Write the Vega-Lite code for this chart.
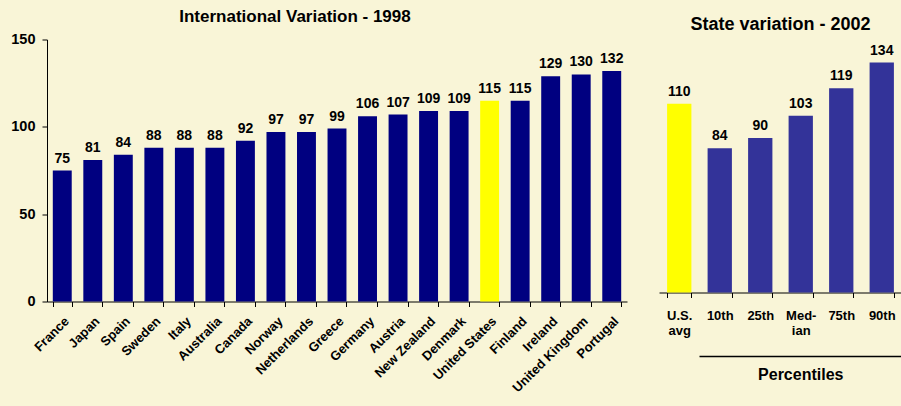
{
  "$schema": "https://vega.github.io/schema/vega-lite/v6.json",
  "background": "#F9F5D7",
  "padding": {"left": 10, "top": 7.5, "right": 6, "bottom": 20},
  "spacing": 32,
  "config": {
    "view": {"stroke": null},
    "axis": {"labelFont": "Liberation Sans", "labelFontWeight": "bold", "labelColor": "black", "domainColor": "black", "tickColor": "black", "grid": false, "titleFont": "Liberation Sans"},
    "title": {"font": "Liberation Sans", "fontWeight": "bold", "color": "black", "offset": 5.5},
    "text": {"font": "Liberation Sans", "fontWeight": "bold", "color": "black"}
  },
  "hconcat": [
    {
      "title": {"text": "International Variation - 1998", "dx": -42, "fontSize": 17},
      "width": 580,
      "height": 262,
      "data": {"values": [
        {"country": "France", "value": 75},
        {"country": "Japan", "value": 81},
        {"country": "Spain", "value": 84},
        {"country": "Sweden", "value": 88},
        {"country": "Italy", "value": 88},
        {"country": "Australia", "value": 88},
        {"country": "Canada", "value": 92},
        {"country": "Norway", "value": 97},
        {"country": "Netherlands", "value": 97},
        {"country": "Greece", "value": 99},
        {"country": "Germany", "value": 106},
        {"country": "Austria", "value": 107},
        {"country": "New Zealand", "value": 109},
        {"country": "Denmark", "value": 109},
        {"country": "United States", "value": 115},
        {"country": "Finland", "value": 115},
        {"country": "Ireland", "value": 129},
        {"country": "United Kingdom", "value": 130},
        {"country": "Portugal", "value": 132}
      ]},
      "encoding": {
        "x": {"field": "country", "type": "nominal", "sort": null,
              "scale": {"paddingInner": 0.38, "paddingOuter": 0.19},
              "axis": {"title": null, "labelAngle": -45, "labelFontSize": 13, "tickBand": "extent", "tickSize": 5, "labelPadding": 8}},
        "y": {"field": "value", "type": "quantitative",
              "scale": {"domain": [0, 150]},
              "axis": {"title": null, "values": [0, 50, 100, 150], "labelFontSize": 14.5, "tickSize": 5, "labelPadding": 7}}
      },
      "layer": [
        {"mark": {"type": "bar"},
         "encoding": {"color": {"condition": {"test": "datum.country === 'United States'", "value": "#FFFF00"}, "value": "#000080"}}},
        {"mark": {"type": "text", "baseline": "bottom", "dy": -5, "fontSize": 14},
         "encoding": {"text": {"field": "value", "type": "quantitative"}}}
      ]
    },
    {
      "title": {"text": "State variation - 2002", "fontSize": 18},
      "width": 243,
      "height": 253,
      "layer": [
        {
          "data": {"values": [
            {"label": "U.S. avg", "value": 110},
            {"label": "10th", "value": 84},
            {"label": "25th", "value": 90},
            {"label": "Median", "value": 103},
            {"label": "75th", "value": 119},
            {"label": "90th", "value": 134}
          ]},
          "encoding": {
            "x": {"field": "label", "type": "nominal", "sort": null,
                  "scale": {"domain": ["U.S. avg", "10th", "25th", "Median", "75th", "90th"], "paddingInner": 0.4, "paddingOuter": 0.2},
                  "axis": {"title": null, "labelAngle": 0, "labelFontSize": 13, "tickBand": "extent", "tickSize": 5, "labelPadding": 12, "labelLineHeight": 15, "labelBaseline": "top",
                           "labelExpr": "datum.value == 'U.S. avg' ? ['U.S.', 'avg'] : (datum.value == 'Median' ? ['Med-', 'ian'] : datum.value)"}},
            "y": {"field": "value", "type": "quantitative", "scale": {"domain": [0, 147.4]}, "axis": null}
          },
          "layer": [
            {"mark": {"type": "bar"},
             "encoding": {"color": {"condition": {"test": "datum.label === 'U.S. avg'", "value": "#FFFF00"}, "value": "#333399"}}},
            {"mark": {"type": "text", "baseline": "bottom", "dy": -5, "fontSize": 14},
             "encoding": {"text": {"field": "value", "type": "quantitative"}}}
          ]
        },
        {
          "data": {"values": [{"first": "10th", "last": "90th", "middle": "Median", "group": "Percentiles"}]},
          "layer": [
            {"mark": {"type": "rule", "color": "black", "strokeWidth": 1.3, "xOffset": -20.25, "x2Offset": 20.25},
             "encoding": {
               "x": {"field": "first", "type": "nominal"},
               "x2": {"field": "last"},
               "y": {"datum": -37.3, "type": "quantitative", "scale": {"domain": [0, 147.4]}}
             }},
            {"mark": {"type": "text", "fontSize": 16, "baseline": "middle"},
             "encoding": {
               "x": {"field": "middle", "type": "nominal"},
               "y": {"datum": -47.8, "type": "quantitative", "scale": {"domain": [0, 147.4]}},
               "text": {"field": "group"}
             }}
          ]
        }
      ]
    }
  ]
}
